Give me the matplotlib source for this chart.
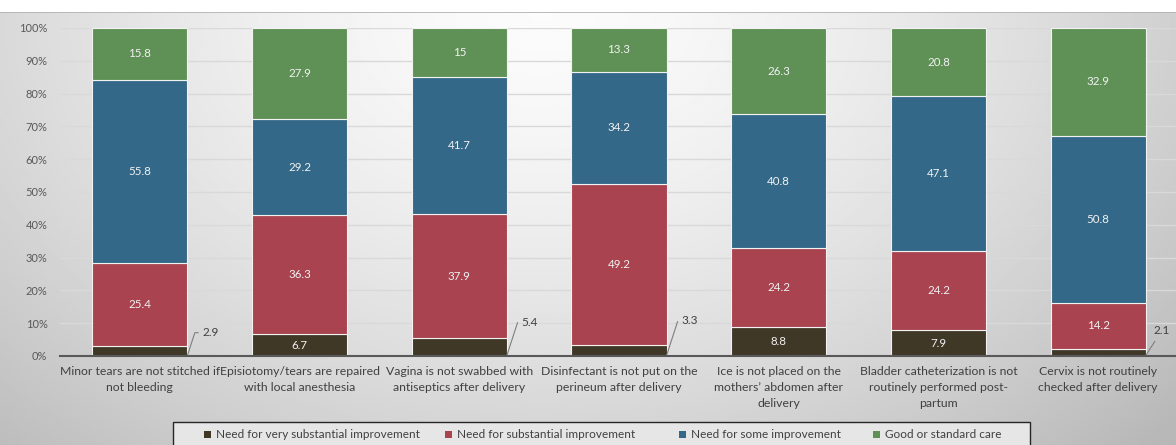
import numpy as np
import matplotlib
matplotlib.use('Agg')
import matplotlib.pyplot as plt
from matplotlib import rcParams
from matplotlib.patches import Patch, Rectangle

rcParams.update({
    'font.family': ['Lato', 'DejaVu Sans'],
    'font.size': 9,
})

W, H, DPI = 1176, 445, 100

categories = [
    'Minor tears are not stitched if\nnot bleeding',
    'Episiotomy/tears are repaired\nwith local anesthesia',
    'Vagina is not swabbed with\nantiseptics after delivery',
    'Disinfectant is not put on the\nperineum after delivery',
    'Ice is not placed on the\nmothers\u2019 abdomen after\ndelivery',
    'Bladder catheterization is not\nroutinely performed post-\npartum',
    'Cervix is not routinely\nchecked after delivery',
]
series_names = ['Need for very substantial improvement',
                'Need for substantial improvement',
                'Need for some improvement',
                'Good or standard care']
very_substantial = [2.9, 6.7, 5.4, 3.3, 8.8, 7.9, 2.1]
substantial = [25.4, 36.3, 37.9, 49.2, 24.2, 24.2, 14.2]
some = [55.8, 29.2, 41.7, 34.2, 40.8, 47.1, 50.8]
good = [15.8, 27.9, 15.0, 13.3, 26.3, 20.8, 32.9]
colors = ['#403827', '#a8434f', '#346888', '#5f9156']

# small segments get an outside label with a leader line (offset in pixels)
callouts = {0: (15, 23), 2: (15, 33), 3: (15, 35), 6: (16, 25)}

fig = plt.figure(figsize=(W / DPI, H / DPI), dpi=DPI)

# soft radial gradient behind the chart panel
bg = fig.add_axes([0, 0, 1, (H - 12) / H], zorder=-10)
yy, xx = np.mgrid[0:200, 0:500]
r = np.sqrt(((xx - 230) / 320.0) ** 2 + ((yy - 0) / 250.0) ** 2)
shade = np.clip(0.985 - 0.22 * r ** 1.5, 0.72, 1.0)
bg.imshow(shade, cmap='gray', vmin=0, vmax=1, aspect='auto',
          extent=[0, 1, 0, 1], interpolation='bilinear')
bg.axhline(1, color='#b0b0b0', lw=1.2)
bg.set_axis_off()

left_px, right_px, top_px, base_px = 60, 1178, 28, 356
ax = fig.add_axes([left_px / W, (H - base_px) / H,
                   (right_px - left_px) / W, (base_px - top_px) / H])
ax.patch.set_alpha(0)

data = np.array([very_substantial, substantial, some, good])
shares = data / data.sum(axis=0)
x = np.arange(len(categories))
width = 0.595

bottom = np.zeros(len(categories))
for si, name in enumerate(series_names):
    ax.bar(x, shares[si], width, bottom=bottom, color=colors[si],
           edgecolor='#f2f2f2', linewidth=0.8, label=name, zorder=3)
    for ci in range(len(categories)):
        v = data[si, ci]
        label = f'{v:g}'
        yc = bottom[ci] + shares[si, ci] / 2
        if si == 0 and ci in callouts:
            dx, dy = callouts[ci]
            if ci == 6:
                ax.annotate(label, xy=(x[ci] + width / 2, 0.001),
                            xytext=(dx, dy), textcoords='offset pixels',
                            ha='center', va='center', fontsize=8.5, color='#404040',
                            arrowprops=dict(arrowstyle='-', color='#7f7f7f', lw=0.8,
                                            shrinkA=2, shrinkB=0))
            else:
                ax.annotate(label, xy=(x[ci] + width / 2, 0.001),
                            xytext=(dx, dy), textcoords='offset pixels',
                            ha='left', va='center', fontsize=8.5, color='#404040',
                            arrowprops=dict(arrowstyle='-', color='#7f7f7f', lw=0.8,
                                            connectionstyle='angle,angleA=0,angleB=72,rad=0',
                                            shrinkA=1, shrinkB=0))
        else:
            ax.text(x[ci], yc, label, ha='center', va='center', fontsize=8.3,
                    color='#f2f2f2', zorder=4)
    bottom += shares[si]

ax.set_xlim(-0.5, len(categories) - 0.5)
ax.set_ylim(0, 1)
ticks = np.arange(0, 1.01, 0.1)
ax.set_yticks(ticks)
ax.set_yticklabels([f'{int(round(t * 100))}%' for t in ticks],
                   fontsize=8, color='#595959')
ax.yaxis.grid(True, color='#d9d9d9', lw=1, zorder=0)
ax.set_axisbelow(True)
ax.tick_params(axis='y', length=0, pad=9)
ax.set_xticks(x)
ax.set_xticklabels(categories, fontsize=8.8, color='#404040', linespacing=1.58)
ax.tick_params(axis='x', length=0, pad=7)
for s in ['top', 'right', 'left']:
    ax.spines[s].set_visible(False)
ax.spines['bottom'].set_color('#595959')
ax.spines['bottom'].set_linewidth(1.5)
ax.spines['bottom'].set_zorder(5)

# legend box with one entry per series at its own slot
box_l, box_r, box_t, box_b = 173, 1030, 422, 449
fig.patches.append(Rectangle((box_l / W, 1 - box_b / H), (box_r - box_l) / W,
                             (box_b - box_t) / H, transform=fig.transFigure,
                             facecolor='#e6e6e6', edgecolor='#262626', lw=1.0,
                             zorder=1))
entry_x = [204, 445, 679, 873]
for ex, c, name in zip(entry_x, colors, series_names):
    leg = fig.legend([Patch(facecolor=c, edgecolor='none')], [name],
                     loc='center left', borderaxespad=0, borderpad=0,
                     bbox_to_anchor=(ex / W, 1 - 435 / H),
                     bbox_transform=fig.transFigure, fontsize=8.5,
                     handlelength=0.6, handleheight=0.6, handletextpad=0.4,
                     frameon=False)
    for t in leg.get_texts():
        t.set_color('#404040')

fig.savefig('out.png', dpi=DPI)
